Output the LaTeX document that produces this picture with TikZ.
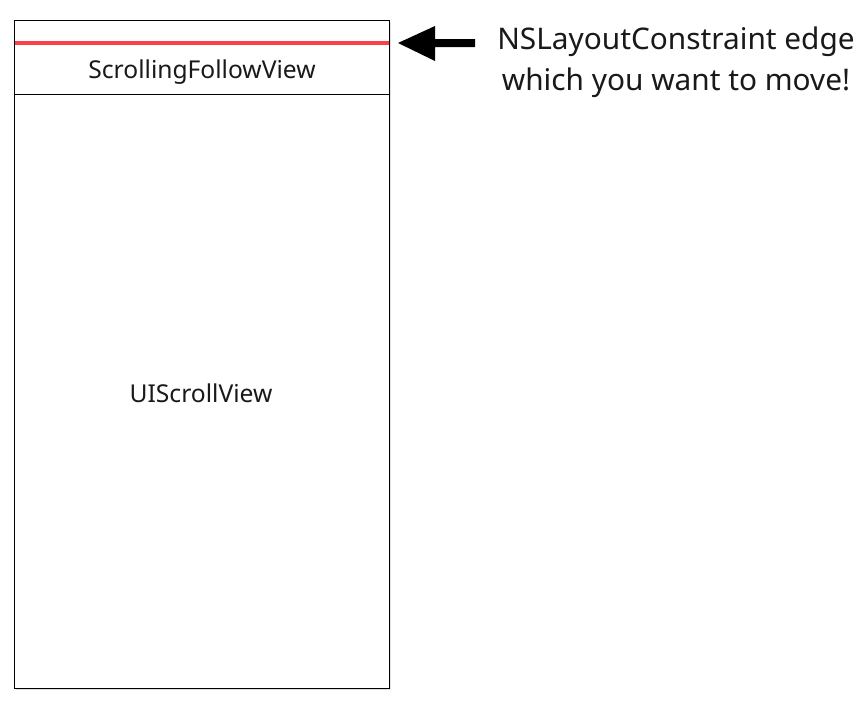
\documentclass[tikz,border=0pt]{standalone}
\usepackage{fontspec}
\setmainfont{Noto Sans}
\begin{document}
\begin{tikzpicture}[x=1pt,y=-1pt,
  box/.style={draw=black,line width=1.2pt},
  lbl/.style={font=\fontsize{24.6}{29}\selectfont,text=black!90},
  note/.style={font=\fontsize{29.8}{41}\selectfont,text=black!90,align=center}]
\useasboundingbox[fill=white] (0,0) rectangle (868,712);
\fill[black!12] (16,22) rectangle (391,690);
\node[box,fill=white,minimum width=375pt,minimum height=668pt,inner sep=0pt,anchor=north west] (outer) at (14,20) {};
\coordinate (sepL) at (14,94);
\coordinate (sepR) at (389,94);
\draw[line width=1pt] (sepL) -- (sepR);
\coordinate (redL) at (15,43);
\coordinate (redR) at (389,43);
\draw[line width=4.5pt,color={rgb,255:red,250;green,65;blue,75}] (redL) -- (redR);
\node[lbl] (sfv) at (202,72) {ScrollingFollowView};
\node[lbl] (usv) at (201,393) {UIScrollView};
\node[note] (txt) at (676,62) {NSLayoutConstraint edge\\which you want to move!};
\coordinate (tip) at (398,43);
\coordinate (tail) at (475,43);
\fill[black] (tip) -- (435,26) -- (435,39) -- (475,39) -- (475,47) -- (435,47) -- (435,61) -- cycle;
\end{tikzpicture}
\end{document}
